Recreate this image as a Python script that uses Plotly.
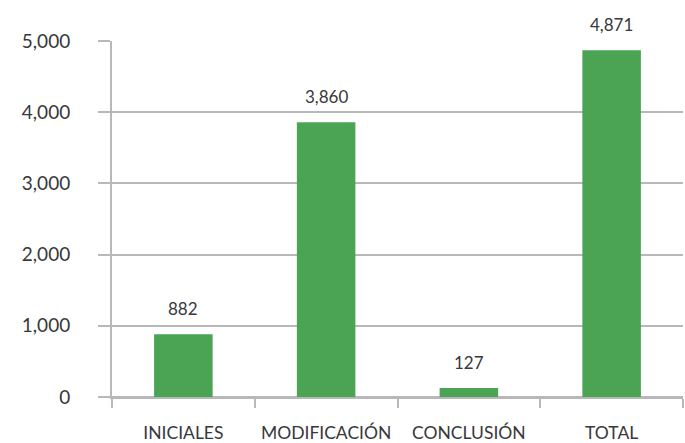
import plotly.graph_objects as go

categorias = ["INICIALES", "MODIFICACIÓN", "CONCLUSIÓN", "TOTAL"]
valores = [882, 3860, 127, 4871]
etiquetas = ["882", "3,860", "127", "4,871"]

verde = "#4ba454"
gris = "#b8b8ba"
texto = "#38383a"
fuente = "Lato"

fig = go.Figure(go.Bar(
    x=categorias, y=valores,
    marker=dict(color=verde, line=dict(width=0)),
    width=0.41,
))

# etiquetas de valor sobre cada barra
for c, v, t in zip(categorias, valores, etiquetas):
    fig.add_annotation(x=c, y=v, text=t, showarrow=False, yanchor="bottom",
                       yshift=13, font=dict(size=17, color=texto, family=fuente))

fig.update_layout(
    width=685, height=443,
    margin=dict(l=112, r=2, t=41, b=46, autoexpand=False),
    plot_bgcolor="white", paper_bgcolor="white",
    showlegend=False,
    font=dict(family=fuente, color=texto),
)
fig.update_xaxes(
    automargin=False,
    tickson="boundaries", ticks="outside", ticklen=9, tickwidth=2, tickcolor=gris,
    showgrid=False, showline=True, linecolor=gris, linewidth=2,
    tickfont=dict(size=17.5, color=texto, family=fuente),
    ticklabelstandoff=19,
)
fig.update_yaxes(
    automargin=False,
    range=[0, 5000], tickvals=[0, 1000, 2000, 3000, 4000, 5000],
    ticktext=["0", "1,000", "2,000", "3,000", "4,000", "5,000"],
    ticks="outside", ticklen=12, tickwidth=2, tickcolor=gris,
    showgrid=True, gridcolor=gris, gridwidth=2,
    zeroline=True, zerolinecolor=gris, zerolinewidth=2,
    showline=True, linecolor=gris, linewidth=2,
    tickfont=dict(size=19, color=texto, family=fuente),
    ticklabelstandoff=24,
)

fig.write_html("out.html", config={"displayModeBar": False},
               post_script="document.body.style.margin='0';")
